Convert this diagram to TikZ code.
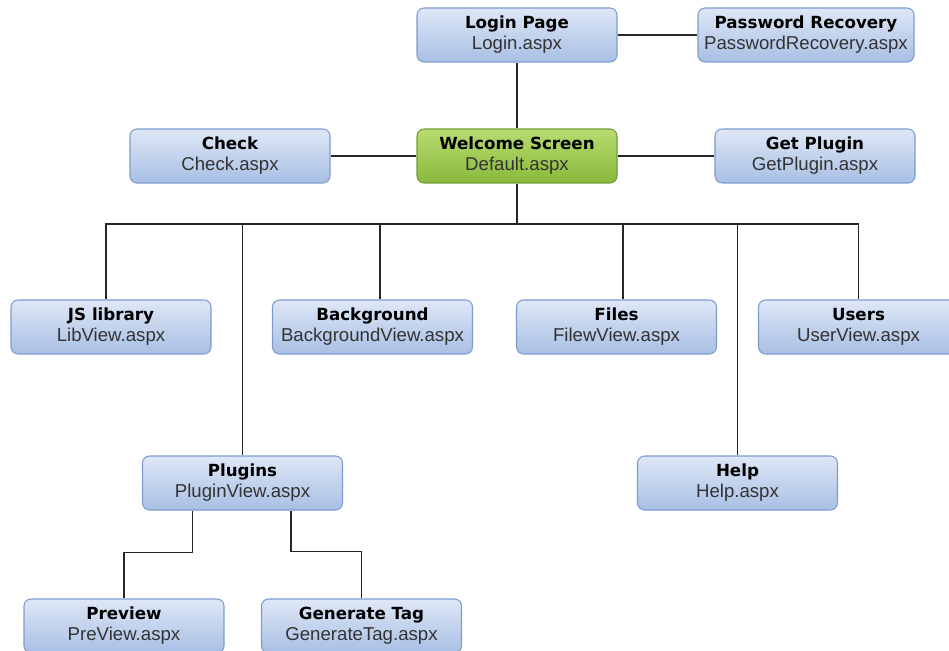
\documentclass[tikz,border=0pt]{standalone}
\usepackage{fontspec}
\setmainfont{Liberation Sans}
\newfontfamily\headfont{DejaVu Sans}
\usepackage{xcolor}
\usepackage{tikz}
\usetikzlibrary{positioning, calc}
\definecolor{pagetop}{RGB}{222, 231, 246}
\definecolor{pagebot}{RGB}{168, 191, 228}
\definecolor{pageedge}{RGB}{124, 156, 208}
\definecolor{hometop}{RGB}{184, 219, 112}
\definecolor{homebot}{RGB}{136, 185, 58}
\definecolor{homeedge}{RGB}{112, 158, 54}
\definecolor{filegray}{RGB}{51, 51, 51}
\newcommand{\pagelabel}[2]{{\headfont\bfseries\fontsize{9.5pt}{12pt}\selectfont #1}\\{\color{filegray}#2}}

\begin{document}
\begin{tikzpicture}[
				page/.style={rectangle, draw=pageedge, top color=pagetop, bottom color=pagebot, line width=0.6pt, rounded corners=4pt, minimum width=4.0cm, minimum height=1.08cm, inner sep=1pt, align=center, font=\fontsize{10.6pt}{12pt}\selectfont},
				home/.style={page, draw=homeedge, top color=hometop, bottom color=homebot},
				link/.style={line width=0.6pt, draw=black!85}
				]
				\useasboundingbox (0,0) rectangle (18.98,-13.02);
				
				% Row 1: Login
				\node[page] (login) at (10.34, -0.70) {\pagelabel{Login Page}{Login.aspx}};
				\node[page, minimum width=4.32cm] (pwrec) at (16.12, -0.70) {\pagelabel{Password Recovery}{PasswordRecovery.aspx}};
				
				% Row 2: Welcome screen
				\node[page] (check) at (4.60, -3.12) {\pagelabel{Check}{Check.aspx}};
				\node[home] (welcome) at (10.34, -3.12) {\pagelabel{Welcome Screen}{Default.aspx}};
				\node[page] (getplugin) at (16.30, -3.12) {\pagelabel{Get Plugin}{GetPlugin.aspx}};
				
				% Row 3: Views
				\node[page] (jslib) at (2.22, -6.54) {\pagelabel{JS library}{LibView.aspx}};
				\node[page] (bg) at (7.45, -6.54) {\pagelabel{Background}{BackgroundView.aspx}};
				\node[page] (files) at (12.33, -6.54) {\pagelabel{Files}{FilewView.aspx}};
				\node[page] (users) at (17.17, -6.54) {\pagelabel{Users}{UserView.aspx}};
				
				% Row 4: Plugins and Help
				\node[page] (plugins) at (4.85, -9.66) {\pagelabel{Plugins}{PluginView.aspx}};
				\node[page] (help) at (14.75, -9.66) {\pagelabel{Help}{Help.aspx}};
				
				% Row 5: Plugin pages
				\node[page] (preview) at (2.48, -12.52) {\pagelabel{Preview}{PreView.aspx}};
				\node[page] (gentag) at (7.23, -12.52) {\pagelabel{Generate Tag}{GenerateTag.aspx}};
				
				% Connectors
				\coordinate (bus) at (10.34, -4.48);
				\draw[link] (login) -- (pwrec);
				\draw[link] (login) -- (welcome);
				\draw[link] (check) -- (welcome);
				\draw[link] (welcome) -- (getplugin);
				\draw[link] (welcome.south) -- (bus);
				
				\draw[link] ([xshift=-1mm]jslib.north) |- (bus) -| (users.north);
				\draw[link] (bus -| plugins.north) -- (plugins.north);
				\draw[link] ([xshift=1.5mm]bg.north) -- ([xshift=1.5mm]bg.north |- bus);
				\draw[link] ([xshift=1.3mm]files.north) -- ([xshift=1.3mm]files.north |- bus);
				\draw[link] (bus -| help.north) -- (help.north);
				
				\draw[link] ([xshift=-1cm]plugins.south) -- ++(0,-0.84) -| (preview.north);
				\draw[link] ([xshift=0.97cm]plugins.south) -- ++(0,-0.82) -| (gentag.north);
			\end{tikzpicture}
\end{document}
